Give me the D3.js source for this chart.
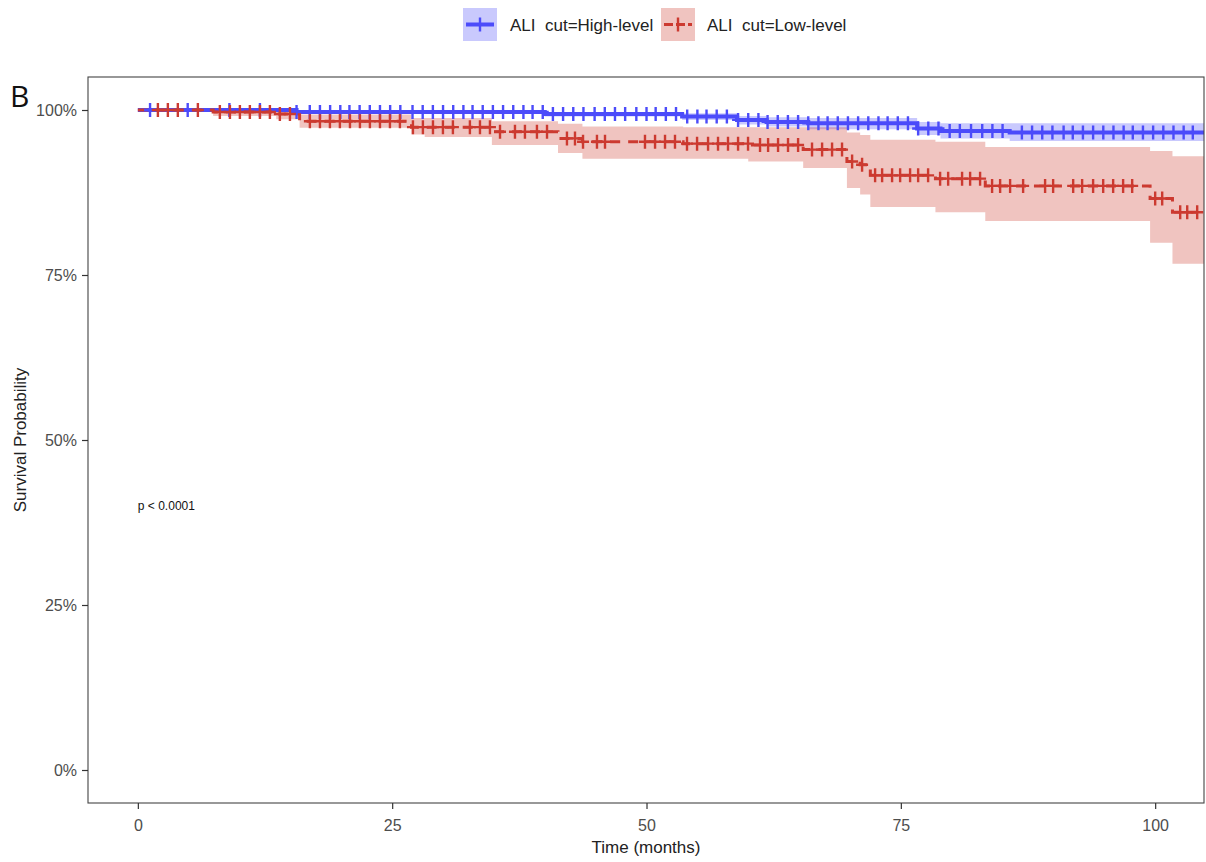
<!DOCTYPE html>
<html><head><meta charset="utf-8">
<script src="https://cdn.jsdelivr.net/npm/d3@7"></script>
<style>
body{margin:0;background:#fff}
text{font-family:"Liberation Sans",Arial,Helvetica,sans-serif}
</style>
</head><body>
<svg id="chart" width="1206" height="862"></svg>
<script>
// ---------------- data ----------------
const groupLabels = ["ALI  cut=High-level", "ALI  cut=Low-level"];
const groupColors = ["#4B4BFA", "#CC3A30"];

const highTime  = [0, 15.6, 40, 53.5, 58.9, 61.8, 65.9, 76.6, 78.9, 85.7, 104.8];
const highSurv  = [1, 0.997, 0.994, 0.990, 0.985, 0.982, 0.980, 0.972, 0.968, 0.966, 0.966];
const highUpper = [1, 0.999, 0.997, 0.995, 0.991, 0.989, 0.988, 0.982, 0.980, 0.980, 0.980];
const highLower = [1, 0.994, 0.990, 0.985, 0.978, 0.975, 0.971, 0.962, 0.957, 0.953, 0.953];
const highCensor = [1.2, 4.9, 9.0, 12.0, 15.6, 16.9, 17.9, 18.9, 19.9, 20.8, 21.8, 22.8, 23.8, 24.8, 25.8,
  27.0, 28.0, 29.0, 30.0, 31.0, 32.0, 32.9, 33.9, 34.9, 35.9, 36.9, 37.9, 38.8, 39.8, 40.8, 41.8, 42.8,
  43.8, 44.9, 45.9, 46.9, 47.9, 49.0, 50.0, 50.9, 51.9, 52.9, 54.0, 55.0, 55.9, 56.9, 57.9, 59.0, 60.0,
  61.0, 61.9, 62.9, 63.9, 64.9, 65.9, 66.9, 67.8, 68.8, 69.8, 70.8, 71.8, 72.8, 73.7, 74.7, 75.7, 76.7,
  77.7, 78.7, 79.8, 80.8, 81.9, 83.0, 84.0, 85.0, 86.9, 87.9, 88.9, 89.9, 91.0, 91.9, 92.9, 93.9, 94.9,
  95.9, 96.9, 97.8, 98.8, 99.8, 100.8, 101.8, 102.8, 103.7];

const lowTime  = [0, 7.4, 13.6, 15.9, 26.9, 28.2, 34.8, 41.3, 43.7, 53.6, 60.0, 65.4, 69.7, 71.0, 72.0, 78.4, 83.3, 99.5, 101.7, 104.8];
const lowSurv  = [1, 0.997, 0.994, 0.983, 0.974, 0.974, 0.967, 0.957, 0.952, 0.949, 0.947, 0.940, 0.922, 0.917, 0.901, 0.896, 0.885, 0.866, 0.845, 0.845];
const lowUpper = [1, 1, 1, 0.993, 0.988, 0.988, 0.983, 0.979, 0.975, 0.974, 0.974, 0.974, 0.966, 0.962, 0.955, 0.952, 0.944, 0.938, 0.930, 0.930];
const lowLower = [1, 0.991, 0.986, 0.973, 0.963, 0.959, 0.947, 0.935, 0.926, 0.926, 0.922, 0.912, 0.882, 0.872, 0.853, 0.845, 0.832, 0.799, 0.767, 0.767];
const lowCensor = [1.97, 2.95, 3.93, 5.90, 8.06, 9.05, 10.03, 11.01, 12.0, 12.98, 13.96, 14.95, 16.91, 17.90,
  18.88, 19.86, 20.85, 21.83, 22.81, 23.80, 24.78, 25.76, 27.04, 28.02, 29.01, 29.99, 30.97, 32.64, 33.63,
  34.61, 35.60, 37.07, 38.05, 39.23, 40.22, 42.18, 42.97, 43.76, 45.13, 45.92, 49.85, 50.84, 51.82, 52.80,
  53.98, 54.97, 56.05, 57.03, 58.01, 59.00, 59.98, 61.16, 61.95, 62.93, 63.91, 64.90, 66.27, 67.26, 68.24,
  69.22, 70.21, 71.19, 72.47, 73.16, 74.14, 74.93, 75.91, 76.70, 77.68, 78.86, 79.65, 81.02, 81.81, 82.79,
  83.97, 84.76, 85.74, 87.02, 89.18, 89.97, 91.94, 92.82, 93.90, 94.89, 95.87, 96.85, 97.74, 100.0, 100.69,
  102.46, 103.15, 104.13];

const xTicks = [0, 25, 50, 75, 100];
const yTicks = [0, 0.25, 0.5, 0.75, 1];
const xTitle = "Time (months)";
const yTitle = "Survival Probability";
const pValueText = "p < 0.0001";
const panelTag = "B";

// ---------------- layout ----------------
const svg = d3.select("#chart");
const P = {l: 88, r: 1204, t: 77, b: 803};
const x = d3.scaleLinear().domain([-4.9, 104.8]).range([P.l, P.r]);
const y = d3.scaleLinear().domain([-0.05, 1.05]).range([P.b, P.t]);

const groups = [
  {time: highTime, surv: highSurv, up: highUpper, lo: highLower, cens: highCensor, color: groupColors[0], dash: null, width: 4},
  {time: lowTime, surv: lowSurv, up: lowUpper, lo: lowLower, cens: lowCensor, color: groupColors[1], dash: "10,8", width: 3}
];

svg.append("defs").append("clipPath").attr("id", "clip")
  .append("rect").attr("x", P.l).attr("y", P.t).attr("width", P.r - P.l).attr("height", P.b - P.t);

const plot = svg.append("g").attr("clip-path", "url(#clip)");

function rows(g) { return g.time.map((t, i) => ({t, s: g.surv[i], u: g.up[i], l: g.lo[i]})); }
function survAt(g, t) {
  let idx = d3.bisectRight(g.time, t) - 1;
  if (idx < 0) idx = 0;
  return g.surv[idx];
}

// ribbons
groups.forEach(g => {
  plot.append("path").datum(rows(g))
    .attr("d", d3.area().curve(d3.curveStepAfter).x(d => x(d.t)).y0(d => y(d.l)).y1(d => y(d.u)))
    .attr("fill", g.color).attr("fill-opacity", 0.3).attr("stroke", "none");
});
// lines
groups.forEach(g => {
  plot.append("path").datum(rows(g))
    .attr("d", d3.line().curve(d3.curveStepAfter).x(d => x(d.t)).y(d => y(d.s)))
    .attr("fill", "none").attr("stroke", g.color).attr("stroke-width", g.width)
    .attr("stroke-dasharray", g.dash);
});
// censor marks
groups.forEach(g => {
  const gg = plot.append("g");
  g.cens.forEach(t => {
    const cx = x(t), cy = y(survAt(g, t));
    gg.append("path")
      .attr("d", `M${cx - 6},${cy}H${cx + 6}M${cx},${cy - 7}V${cy + 7}`)
      .attr("stroke", g.color).attr("stroke-width", 2.4).attr("fill", "none");
  });
});

// panel border
svg.append("rect").attr("x", P.l).attr("y", P.t).attr("width", P.r - P.l).attr("height", P.b - P.t)
  .attr("fill", "none").attr("stroke", "#444").attr("stroke-width", 1.1);

// axes
const xAxis = svg.append("g").attr("transform", `translate(0,${P.b})`)
  .call(d3.axisBottom(x).tickValues(xTicks).tickSize(6).tickPadding(11).tickFormat(d3.format("d")));
const yAxis = svg.append("g").attr("transform", `translate(${P.l},0)`)
  .call(d3.axisLeft(y).tickValues(yTicks).tickSize(6).tickPadding(5).tickFormat(d3.format(".0%")));
[xAxis, yAxis].forEach(a => {
  a.select(".domain").remove();
  a.selectAll(".tick line").attr("stroke", "#333").attr("stroke-width", 1.2);
  a.selectAll(".tick text").attr("fill", "#4D4D4D").style("font-size", "16px")
    .style("font-family", '"Liberation Sans",Arial,sans-serif');
});

// titles
svg.append("text").attr("x", (P.l + P.r) / 2).attr("y", 853).attr("text-anchor", "middle")
  .style("font-size", "17px").attr("fill", "#222").text(xTitle);
svg.append("text").attr("transform", `translate(26,${(P.t + P.b) / 2}) rotate(-90)`).attr("text-anchor", "middle")
  .style("font-size", "17px").attr("fill", "#222").text(yTitle);

// p value
svg.append("text").attr("x", x(0)).attr("y", y(0.4) + 4).style("font-size", "12px").attr("fill", "#111").text(pValueText);

// panel tag
svg.append("text").attr("x", 10).attr("y", 107).style("font-size", "30px")
  .style("font-family", '"Open Sans","Noto Sans",sans-serif').attr("fill", "#111").text(panelTag);

// legend
const legendItems = [
  {label: groupLabels[0], color: groupColors[0], dashed: false, kx: 463, tx: 510},
  {label: groupLabels[1], color: groupColors[1], dashed: true, kx: 661, tx: 707}
];
legendItems.forEach(it => {
  const g = svg.append("g");
  g.append("rect").attr("x", it.kx).attr("y", 8).attr("width", 34).attr("height", 33)
    .attr("fill", it.color).attr("fill-opacity", 0.3);
  const cx = it.kx + 17, cy = 24.5;
  g.append("line").attr("x1", it.kx + 3).attr("x2", it.kx + 31).attr("y1", cy).attr("y2", cy)
    .attr("stroke", it.color).attr("stroke-width", it.dashed ? 3 : 4)
    .attr("stroke-dasharray", it.dashed ? "9,3" : null);
  g.append("line").attr("x1", cx).attr("x2", cx).attr("y1", cy - 7).attr("y2", cy + 7)
    .attr("stroke", it.color).attr("stroke-width", 2.4);
  g.append("text").attr("x", it.tx).attr("y", 31).style("font-size", "17px").style("white-space", "pre")
    .attr("fill", "#222").text(it.label);
});
</script>
</body></html>
